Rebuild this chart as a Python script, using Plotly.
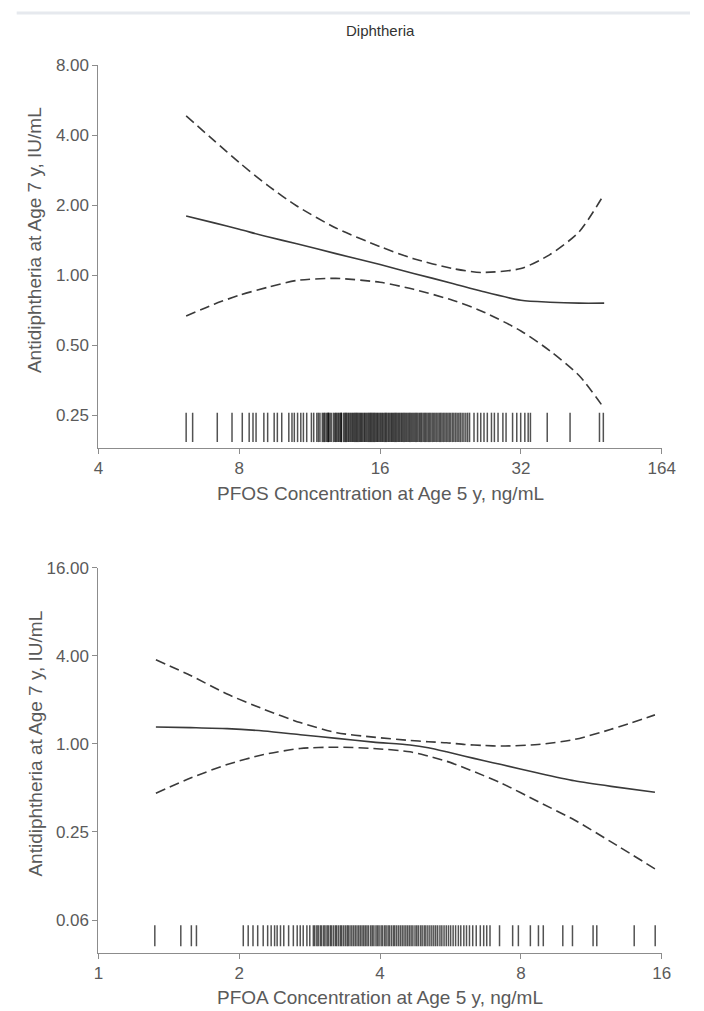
import math
import plotly.graph_objects as go

# ---------------- data ----------------
title_text = "Diphtheria"
y_title = "Antidiphtheria at Age 7 y, IU/mL"
x_title_top = "PFOS Concentration at Age 5 y, ng/mL"
x_title_bot = "PFOA Concentration at Age 5 y, ng/mL"

# Top panel (PFOS)
pfos_x = [6.16, 7.07, 8.00, 9.20, 10.62, 12.87, 16.0, 18.87, 22.86, 26.39, 32.0, 36.9, 42.6, 48.2]
pfos_est = [1.802, 1.683, 1.579, 1.466, 1.369, 1.241, 1.114, 1.020, 0.924, 0.855, 0.782, 0.767, 0.760, 0.760]
pfos_upper = [4.86, 3.80, 3.06, 2.44, 1.99, 1.60, 1.33, 1.18, 1.071, 1.030, 1.071, 1.229, 1.540, 2.237]
pfos_lower = [0.669, 0.752, 0.822, 0.889, 0.952, 0.971, 0.934, 0.872, 0.782, 0.702, 0.577, 0.474, 0.371, 0.268]

pfos_rug = [6.16, 6.36, 7.18, 7.72, 8.12, 8.40, 8.56, 8.69, 9.03, 9.20, 9.50, 9.65, 9.86,
            10.21, 10.37, 10.49, 10.66, 10.83, 10.97, 11.15, 11.41, 11.54,
            11.72, 11.81, 11.90, 12.04, 12.12, 12.18, 12.27, 12.35, 12.41, 12.41, 12.50, 12.58,
            12.71, 12.80, 12.86, 12.93, 13.01, 13.07, 13.15, 13.22, 13.22, 13.36, 13.44, 13.51,
            13.57, 13.66, 13.72, 13.80, 13.87, 13.95, 14.02, 14.10, 14.17, 14.25, 14.31, 14.40,
            14.48, 14.55, 14.62, 14.70, 14.79, 14.85, 14.93, 15.01, 15.10, 15.18, 15.26, 15.33,
            15.42, 15.50, 15.58, 15.67, 15.75, 15.82, 15.91, 16.00, 16.08, 16.17, 16.25, 16.36,
            16.44, 16.52, 16.63, 16.71, 16.80, 16.90, 16.98, 17.07, 17.17, 17.26, 17.35, 17.46,
            17.55, 17.64, 17.75, 17.84, 17.95, 18.05, 18.16, 18.26, 18.37, 18.48, 18.58, 18.70,
            18.81, 18.92, 19.04, 19.15, 19.27, 19.40, 19.52, 19.63, 19.77, 19.90, 20.02, 20.15,
            20.29, 20.42, 20.55, 20.70, 20.84, 20.97, 21.12, 21.27, 21.42, 21.56, 21.71, 21.87,
            22.02, 22.18, 22.34, 22.50, 22.66, 22.85, 23.01, 23.20, 23.38, 23.57, 23.75, 23.96,
            24.17, 24.40, 24.62, 24.85,
            25.40, 25.85, 26.26, 26.68, 27.12, 27.68, 28.08, 28.59, 29.28, 29.74, 30.71, 31.35,
            31.96, 32.62, 33.16, 33.53, 36.42, 40.75, 47.10, 48.00]

# Bottom panel (PFOA)
pfoa_x = [1.327, 1.574, 1.884, 2.256, 2.700, 3.232, 3.870, 4.633, 5.070, 5.548, 6.070, 6.642,
          7.265, 8.697, 10.41, 12.47, 15.47]
pfoa_est = [1.308, 1.294, 1.274, 1.227, 1.158, 1.093, 1.030, 0.983, 0.942, 0.884, 0.825, 0.771,
            0.723, 0.633, 0.560, 0.513, 0.468]
pfoa_upper = [3.77, 2.94, 2.196, 1.730, 1.401, 1.195, 1.115, 1.058, 1.036, 1.019, 0.992, 0.977,
              0.968, 0.992, 1.074, 1.260, 1.582]
pfoa_lower = [0.461, 0.585, 0.723, 0.847, 0.932, 0.951, 0.932, 0.884, 0.825, 0.762, 0.685, 0.610,
              0.540, 0.404, 0.302, 0.214, 0.140]

pfoa_rug = [1.32, 1.50, 1.58, 1.62, 2.04, 2.09, 2.14, 2.19, 2.25, 2.30, 2.34, 2.38, 2.41, 2.45,
            2.49, 2.55,
            2.61, 2.66, 2.70, 2.74, 2.79, 2.83, 2.88, 2.90, 2.93, 2.95, 2.98, 3.00, 3.03, 3.05,
            3.08, 3.10, 3.13, 3.15, 3.18, 3.21, 3.23, 3.26, 3.29, 3.31, 3.34, 3.37, 3.40, 3.42,
            3.45, 3.48, 3.51, 3.54, 3.57, 3.60, 3.63, 3.66, 3.69, 3.72, 3.75, 3.78, 3.82, 3.85,
            3.88, 3.92, 3.95, 3.98, 4.02, 4.05, 4.09, 4.12, 4.16, 4.19, 4.23, 4.27, 4.30, 4.34,
            4.38, 4.42, 4.46, 4.50, 4.54, 4.58, 4.62, 4.66, 4.70, 4.75, 4.79, 4.83, 4.88, 4.92,
            4.97, 5.01, 5.06, 5.11, 5.16, 5.21, 5.26, 5.31, 5.37, 5.42, 5.48, 5.54, 5.60, 5.66,
            5.73, 5.80, 5.88, 5.95, 6.04, 6.12, 6.21, 6.31, 6.42, 6.55, 6.66, 6.76,
            6.87, 7.20, 7.68, 7.90, 8.38, 8.72, 8.93, 9.83, 10.31, 11.41, 11.62, 13.97, 15.49]

top_xtickvals = [4, 8, 16, 32, 64]
top_xticktext = ["4", "8", "16", "32", "164"]
top_ytickvals = [0.25, 0.5, 1, 2, 4, 8]
top_yticktext = ["0.25", "0.50", "1.00", "2.00", "4.00", "8.00"]
bot_xtickvals = [1, 2, 4, 8, 16]
bot_xticktext = ["1", "2", "4", "8", "16"]
bot_ytickvals = [0.0625, 0.25, 1, 4, 16]
bot_yticktext = ["0.06", "0.25", "1.00", "4.00", "16.00"]

# ---------------- style ----------------
W, H = 704, 1011
FONT = "Liberation Sans, Arial, sans-serif"
TXT = "#5a5a5a"
AX = "#8c8c8c"
LINEC = "#3a3a3a"
DASH = "10px,5px"
RUGC = "rgba(0,0,0,0.68)"


def py(p):  # pixel row -> paper y
    return 1 - p / H


def px(p):  # pixel col -> paper x
    return p / W


fig = go.Figure()


def add_panel(xs, est, up, lo, rug, rug_y, rug_size, xa, ya):
    fig.add_trace(go.Scatter(x=xs, y=up, mode="lines", xaxis=xa, yaxis=ya, hoverinfo="skip",
                             line=dict(color=LINEC, width=1.6, dash=DASH, shape="spline", smoothing=0.7)))
    fig.add_trace(go.Scatter(x=xs, y=lo, mode="lines", xaxis=xa, yaxis=ya, hoverinfo="skip",
                             line=dict(color=LINEC, width=1.6, dash=DASH, shape="spline", smoothing=0.7)))
    fig.add_trace(go.Scatter(x=xs, y=est, mode="lines", xaxis=xa, yaxis=ya, hoverinfo="skip",
                             line=dict(color=LINEC, width=1.6, shape="spline", smoothing=0.7)))
    fig.add_trace(go.Scatter(x=rug, y=[rug_y] * len(rug), mode="markers", xaxis=xa, yaxis=ya,
                             hoverinfo="skip",
                             marker=dict(symbol="line-ns-open", size=rug_size, color=RUGC,
                                         line=dict(color=RUGC, width=1.5))))


add_panel(pfos_x, pfos_est, pfos_upper, pfos_lower, pfos_rug, 0.222, 21, "x", "y")
add_panel(pfoa_x, pfoa_est, pfoa_upper, pfoa_lower, pfoa_rug, 0.0487, 15, "x2", "y2")

axis_common = dict(type="log", showline=True, linecolor=AX, linewidth=1, ticks="outside",
                   ticklen=5, tickcolor=AX, tickwidth=1, showgrid=False, zeroline=False,
                   tickfont=dict(family=FONT, size=17, color=TXT), tickmode="array",
                   fixedrange=True)

xdom = [px(96), px(675)]

fig.update_layout(
    width=W, height=H, margin=dict(l=0, r=0, t=0, b=0),
    paper_bgcolor="white", plot_bgcolor="white", showlegend=False,
    xaxis=dict(axis_common, domain=xdom, range=[math.log10(4), math.log10(64)],
               tickvals=top_xtickvals, ticktext=top_xticktext, anchor="y"),
    yaxis=dict(axis_common, domain=[py(443), py(57)], range=[math.log10(0.1809), math.log10(8)],
               tickvals=top_ytickvals, ticktext=top_yticktext, anchor="x"),
    xaxis2=dict(axis_common, domain=xdom, range=[math.log10(1), math.log10(16)],
                tickvals=bot_xtickvals, ticktext=bot_xticktext, anchor="y2"),
    yaxis2=dict(axis_common, domain=[py(952), py(564)], range=[math.log10(0.03745), math.log10(16)],
                tickvals=bot_ytickvals, ticktext=bot_yticktext, anchor="x2"),
    shapes=[dict(type="line", xref="paper", yref="paper", x0=px(12), x1=1, y0=py(4), y1=py(4),
                 line=dict(color="#e6e9ee", width=3))],
    annotations=[
        dict(text=title_text, xref="paper", yref="paper", x=px(386), y=py(22), showarrow=False,
             xanchor="center", yanchor="middle", font=dict(family=FONT, size=15, color="#333")),
        dict(text=x_title_top, xref="paper", yref="paper", x=px(385.5), y=py(489), showarrow=False,
             xanchor="center", yanchor="middle", font=dict(family=FONT, size=19, color=TXT)),
        dict(text=x_title_bot, xref="paper", yref="paper", x=px(385.5), y=py(997), showarrow=False,
             xanchor="center", yanchor="middle", font=dict(family=FONT, size=19, color=TXT)),
        dict(text=y_title, xref="paper", yref="paper", x=px(31), y=py(233), showarrow=False,
             textangle=-90, xanchor="center", yanchor="middle",
             font=dict(family=FONT, size=19, color=TXT)),
        dict(text=y_title, xref="paper", yref="paper", x=px(31), y=py(741), showarrow=False,
             textangle=-90, xanchor="center", yanchor="middle",
             font=dict(family=FONT, size=19, color=TXT)),
    ],
)

post = ("document.documentElement.style.margin='0';document.documentElement.style.padding='0';"
        "document.documentElement.style.overflow='hidden';"
        "document.body.style.margin='0';document.body.style.padding='0';"
        "document.body.style.overflow='hidden';")

fig.write_html("out.html", post_script=post, config={"displayModeBar": False})
